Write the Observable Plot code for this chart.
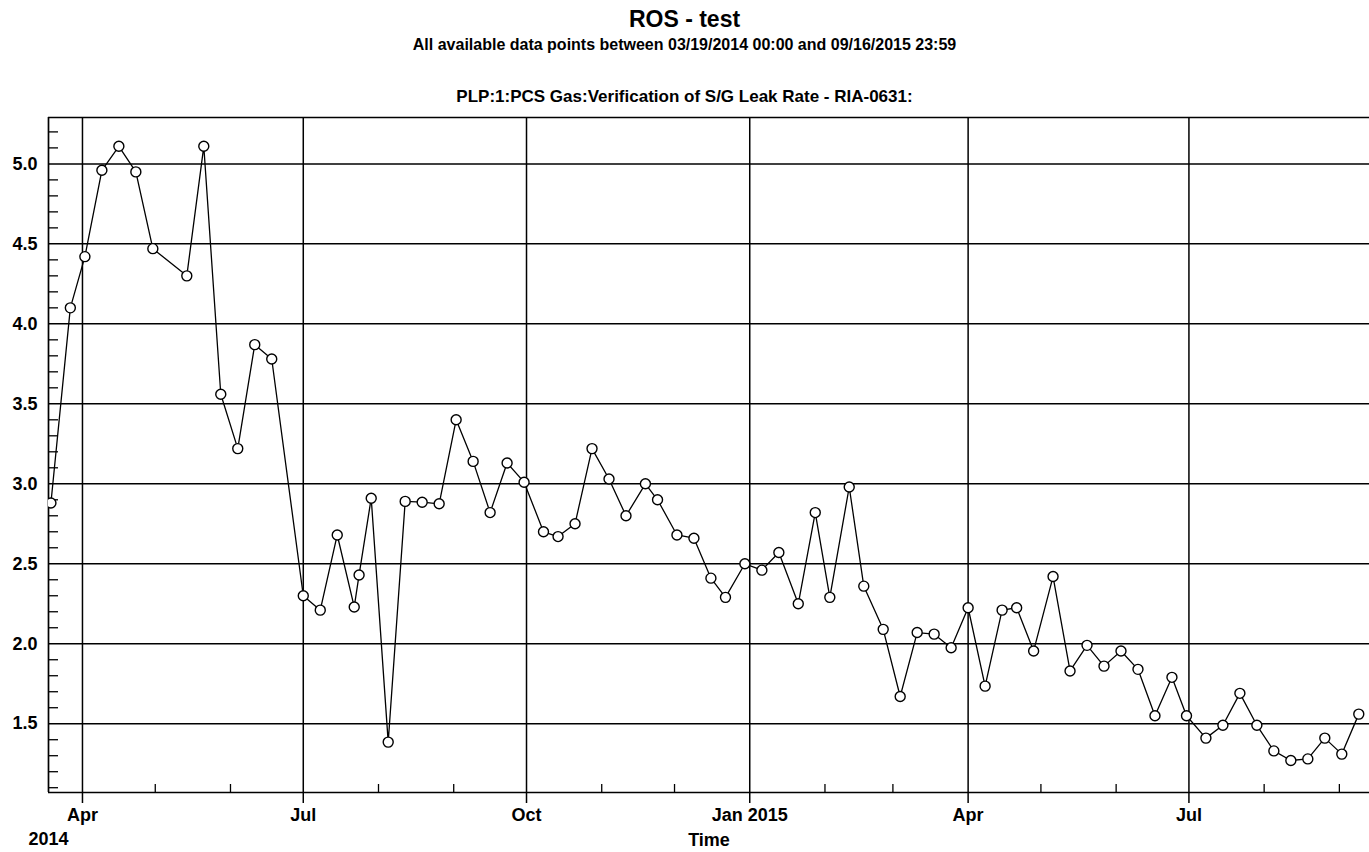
<!DOCTYPE html>
<html><head><meta charset="utf-8">
<script src="https://cdn.jsdelivr.net/npm/d3@7"></script>
<script src="https://cdn.jsdelivr.net/npm/@observablehq/plot@0.6"></script>
<style>
html,body{margin:0;padding:0;background:#fff;overflow:hidden;}
#hdr{position:relative;height:110px;font-family:"Liberation Sans",Arial,sans-serif;font-weight:bold;color:#000;}
#hdr div{position:absolute;left:0;width:1369px;text-align:center;white-space:nowrap;line-height:1;}
#t1{top:8px;font-size:23px;}
#t2{top:37px;font-size:16px;}
#t3{top:88px;font-size:17px;}
#chart{height:742px;}
</style></head><body>
<div id="hdr">
  <div id="t1">ROS - test</div>
  <div id="t2">All available data points between 03/19/2014 00:00 and 09/16/2015 23:59</div>
  <div id="t3">PLP:1:PCS Gas:Verification of S/G Leak Rate - RIA-0631:</div>
</div>
<div id="chart"></div>
<script>
const dates = [
  "2014-03-19","2014-03-27","2014-04-02","2014-04-09","2014-04-16","2014-04-23","2014-04-30",
  "2014-05-14","2014-05-21","2014-05-28","2014-06-04","2014-06-11","2014-06-18",
  "2014-07-01","2014-07-08","2014-07-15","2014-07-22","2014-07-24","2014-07-29",
  "2014-08-05","2014-08-12","2014-08-19","2014-08-26",
  "2014-09-02","2014-09-09","2014-09-16","2014-09-23","2014-09-30",
  "2014-10-08","2014-10-14","2014-10-21","2014-10-28",
  "2014-11-04","2014-11-11","2014-11-19","2014-11-24",
  "2014-12-02","2014-12-09","2014-12-16","2014-12-22","2014-12-30",
  "2015-01-06","2015-01-13","2015-01-21","2015-01-28",
  "2015-02-03","2015-02-11","2015-02-17","2015-02-25",
  "2015-03-04","2015-03-11","2015-03-18","2015-03-25",
  "2015-04-01","2015-04-08","2015-04-15","2015-04-21","2015-04-28",
  "2015-05-06","2015-05-13","2015-05-20","2015-05-27",
  "2015-06-03","2015-06-10","2015-06-17","2015-06-24","2015-06-30",
  "2015-07-08","2015-07-15","2015-07-22","2015-07-29",
  "2015-08-05","2015-08-12","2015-08-19","2015-08-26",
  "2015-09-02","2015-09-09"
];
const values = [
  2.88, 4.10, 4.42, 4.96, 5.11, 4.95, 4.47,
  4.30, 5.11, 3.56, 3.22, 3.87, 3.78,
  2.30, 2.21, 2.68, 2.23, 2.43, 2.91,
  1.385, 2.89, 2.885, 2.875,
  3.40, 3.14, 2.82, 3.13, 3.01,
  2.70, 2.67, 2.75, 3.22,
  3.03, 2.80, 3.00, 2.90,
  2.68, 2.66, 2.41, 2.29, 2.50,
  2.46, 2.57, 2.25, 2.82,
  2.29, 2.98, 2.36, 2.09,
  1.67, 2.07, 2.06, 1.975,
  2.225, 1.735, 2.21, 2.225, 1.955,
  2.42, 1.83, 1.99, 1.86,
  1.955, 1.84, 1.55, 1.79, 1.55,
  1.41, 1.49, 1.69, 1.49,
  1.33, 1.27, 1.28, 1.41,
  1.31, 1.56
];
const xTicks = ["2014-04-01","2014-07-01","2014-10-01","2015-01-01","2015-04-01","2015-07-01"];
const xTickLabels = ["Apr","Jul","Oct","Jan 2015","Apr","Jul"];
const xMinorTicks = ["2014-05-01","2014-06-01","2014-08-01","2014-09-01","2014-11-01","2014-12-01",
  "2015-02-01","2015-03-01","2015-05-01","2015-06-01","2015-08-01","2015-09-01"];
const yTicks = [1.5, 2.0, 2.5, 3.0, 3.5, 4.0, 4.5, 5.0];
const yTickLabels = ["1.5","2.0","2.5","3.0","3.5","4.0","4.5","5.0"];
const yMinorTicks = [1.1,1.2,1.3,1.4,1.6,1.7,1.8,1.9,2.1,2.2,2.3,2.4,2.6,2.7,2.8,2.9,
  3.1,3.2,3.3,3.4,3.6,3.7,3.8,3.9,4.1,4.2,4.3,4.4,4.6,4.7,4.8,4.9,5.1,5.2];
const xDomain = ["2014-03-18T00:00Z","2015-09-13T10:00Z"];
const yDomain = [1.07, 5.29];
const yearLabel = "2014";
const xAxisLabel = "Time";

const data = dates.map((d, i) => ({date: new Date(d + "T00:00Z"), value: values[i]}));
const toDate = s => new Date(s.length > 10 ? s : s + "T00:00Z");
const xT = xTicks.map(toDate);
const xLabelMap = new Map(xT.map((d, i) => [+d, xTickLabels[i]]));
const xDom = xDomain.map(toDate);

const ink = "#000";
const chart = Plot.plot({
  width: 1369,
  height: 742,
  marginLeft: 48,
  marginRight: 0,
  marginTop: 7,
  marginBottom: 60,
  style: {fontFamily: "'Liberation Sans', Arial, sans-serif", fontSize: "18px", fontWeight: "bold", color: ink, background: "#fff"},
  x: {type: "utc", domain: xDom},
  y: {domain: yDomain},
  marks: [
    Plot.gridX(xT, {stroke: ink, strokeOpacity: 1, strokeWidth: 1.5}),
    Plot.gridY(yTicks, {stroke: ink, strokeOpacity: 1, strokeWidth: 1.5}),
    Plot.ruleX([xDom[0]], {stroke: ink, strokeWidth: 1.7}),
    Plot.ruleY([yDomain[0]], {stroke: ink, strokeWidth: 1.7}),
    Plot.ruleY([yDomain[1]], {stroke: ink, strokeWidth: 1.7}),
    Plot.axisY({ticks: yTicks, tickSize: 0, tickPadding: 11, tickFormat: d => yTickLabels[yTicks.indexOf(d)], label: null, fill: ink}),
    Plot.axisY({ticks: yMinorTicks, tickSize: -10, tickPadding: 0, tickFormat: () => "", label: null, stroke: ink, strokeWidth: 1.3}),
    Plot.axisX({ticks: xT, tickSize: 11, tickPadding: 5, tickFormat: d => xLabelMap.get(+d), label: null, stroke: ink, strokeWidth: 1.5, fill: ink}),
    Plot.axisX({ticks: xMinorTicks.map(toDate), tickSize: -8, tickPadding: 0, tickFormat: () => "", label: null, stroke: ink, strokeWidth: 1.3}),
    Plot.text([yearLabel], {frameAnchor: "bottom-left", textAnchor: "middle", lineAnchor: "top", dy: 40, fill: ink}),
    Plot.text([xAxisLabel], {frameAnchor: "bottom", textAnchor: "middle", lineAnchor: "top", dy: 41, fill: ink}),
    Plot.line(data, {x: "date", y: "value", stroke: ink, strokeWidth: 1.3, clip: true}),
    Plot.dot(data, {x: "date", y: "value", r: 5, fill: "#fff", stroke: ink, strokeWidth: 1.4, clip: true})
  ]
});
document.getElementById("chart").appendChild(chart);
</script>
</body></html>
